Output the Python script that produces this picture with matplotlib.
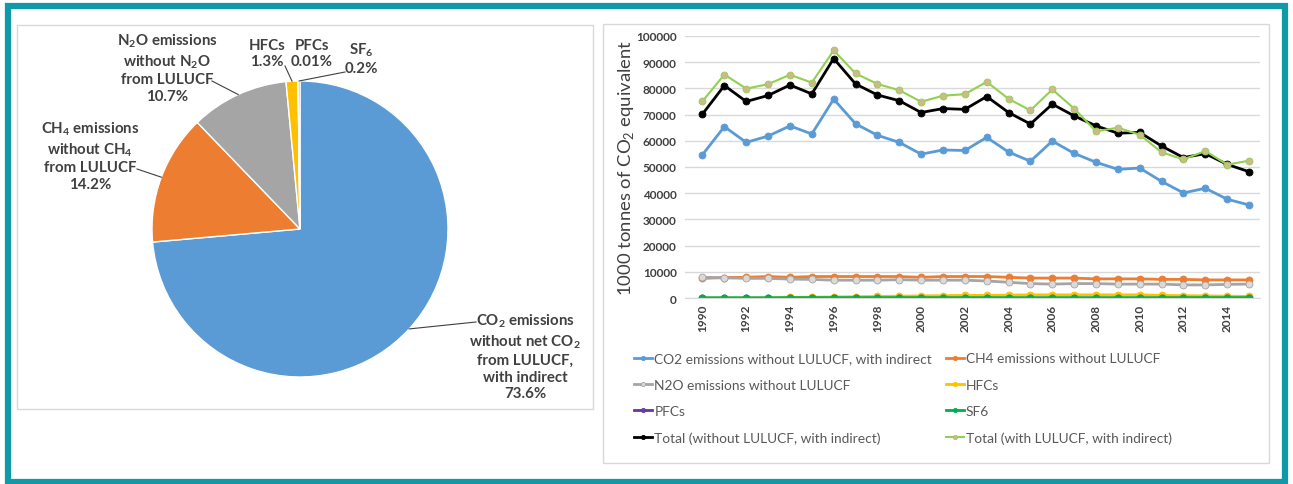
import numpy as np
import matplotlib
matplotlib.use("Agg")
import matplotlib.pyplot as plt
from matplotlib.patches import Rectangle

plt.rcParams['font.family'] = ['Lato', 'DejaVu Sans']
plt.rcParams['mathtext.fontset'] = 'custom'
plt.rcParams['mathtext.rm'] = 'Lato'
plt.rcParams['mathtext.bf'] = 'Lato:bold'

# ---- pie data ----
pie_labels = [r"CO$_\mathbf{2}$ emissions" "\n" r"without net CO$_\mathbf{2}$" "\nfrom LULUCF,\nwith indirect\n73.6%",
              r"CH$_\mathbf{4}$ emissions" "\n" r"without CH$_\mathbf{4}$" "\nfrom LULUCF\n14.2%",
              r"N$_\mathbf{2}$O emissions" "\n" r"without N$_\mathbf{2}$O" "\nfrom LULUCF\n10.7%",
              "HFCs\n1.3%",
              "PFCs\n0.01%",
              r"SF$_\mathbf{6}$" "\n0.2%"]
pie_shares = [73.6, 14.2, 10.7, 1.3, 0.01, 0.2]
pie_colors = ["#5B9BD5", "#ED7D31", "#A5A5A5", "#FFC000", "#4472C4", "#70AD47"]

# ---- line data (1000 t CO2 eq) ----
years = list(range(1990, 2016))
co2 = [54700, 65400, 59400, 61800, 65700, 62600, 75900, 66500, 62100, 59400,
       54900, 56500, 56300, 61300, 55700, 52200, 59900, 55200, 51800, 49100,
       49600, 44500, 40100, 41900, 37700, 35500]
ch4 = [7500, 7800, 7900, 8200, 7900, 8200, 8200, 8200, 8200, 8200,
       7900, 8200, 8200, 8200, 7900, 7600, 7600, 7600, 7300, 7300,
       7300, 7100, 7100, 6900, 6900, 6900]
n2o = [7900, 7700, 7500, 7500, 7200, 7100, 6800, 6800, 6800, 7000,
       6800, 6800, 6800, 6500, 6000, 5500, 5300, 5500, 5500, 5300,
       5300, 5300, 5000, 5000, 5200, 5300]
hfcs = [0, 0, 0, 0, 200, 300, 400, 500, 600, 700,
        800, 900, 1000, 1000, 1100, 1200, 1200, 1200, 1200, 1200,
        1200, 1000, 900, 800, 700, 600]
pfcs = [10, 10, 10, 10, 10, 10, 10, 10, 10, 10,
        10, 10, 10, 10, 10, 10, 10, 10, 10, 10,
        10, 10, 10, 10, 10, 10]
sf6 = [100, 100, 100, 100, 150, 150, 150, 150, 150, 150,
       150, 150, 150, 150, 150, 150, 150, 150, 150, 150,
       150, 150, 150, 150, 150, 150]
total_wo = [70200, 81100, 75000, 77300, 81300, 77900, 91400, 81700, 77500, 75300,
            70800, 72300, 72000, 76900, 70800, 66400, 74000, 69500, 65700, 62900,
            63200, 58000, 53600, 55100, 51000, 48200]
total_w = [75100, 85300, 79900, 81600, 85200, 82200, 94500, 85700, 81700, 79300,
           74900, 77200, 77800, 82500, 76000, 71600, 79600, 72300, 63600, 65000,
           62300, 55600, 52900, 56100, 50900, 52400]

W, H = 1293, 485
fig = plt.figure(figsize=(W / 100, H / 100), dpi=100)

def box(x0, y0, x1, y1):
    # pixel box (top-left origin) -> figure fraction rect
    return [x0 / W, 1 - y1 / H, (x1 - x0) / W, (y1 - y0) / H]

# outer teal frame and panel frames
fig.patches.append(Rectangle((8 / W, 2.5 / H), (1285 - 8) / W, (478 - 2.5) / H,
                             transform=fig.transFigure, fill=False,
                             edgecolor="#0E9AA7", linewidth=4.5))
for b in [box(17, 26, 593, 410), box(603, 25, 1269, 464)]:
    fig.patches.append(Rectangle((b[0], b[1]), b[2], b[3], transform=fig.transFigure,
                                 fill=False, edgecolor="#D9D9D9", linewidth=1))

# ---- pie ----
cx, cy, R = 300, 230, 148
axp = fig.add_axes(box(17, 26, 593, 410))
wedges, _ = axp.pie(pie_shares, colors=pie_colors, startangle=90, counterclock=False,
                    wedgeprops=dict(edgecolor="white", linewidth=1))
axp.set_xlim((17 - cx) / R, (593 - cx) / R)
axp.set_ylim(-(410 - cy) / R, (cy - 26) / R)
axp.set_aspect("auto")
axp.axis("off")

def px(x, y):
    return ((x - cx) / R, (cy - y) / R)

# label centre (px), leader start (px)
label_pos = [(525, 357, 476, 323),
             (90, 156, 137, 170),
             (167, 68, 212, 82),
             (267, 54, 285, 67),
             (312, 54, None, None),
             (361, 59, 345, 73)]
for w, lab, (lx, ly, sx, sy) in zip(wedges, pie_labels, label_pos):
    ang = np.deg2rad((w.theta1 + w.theta2) / 2)
    tip = (np.cos(ang), np.sin(ang))
    axp.text(*px(lx, ly), lab, ha="center", va="center", fontsize=10.8,
             fontweight="bold", color="#404040", linespacing=1.25)
    if sx is not None:
        axp.plot([px(sx, sy)[0], tip[0]], [px(sx, sy)[1], tip[1]],
                 color="#404040", linewidth=0.8)

# ---- line chart ----
ax = fig.add_axes(box(685, 37, 1260, 299))
series = [
    ("CO2 emissions without LULUCF, with indirect", co2, "#5B9BD5", "#5B9BD5", 2.0),
    ("CH4 emissions without LULUCF", ch4, "#ED7D31", "#ED7D31", 2.0),
    ("N2O emissions without LULUCF", n2o, "#A5A5A5", "#D9D9D9", 2.0),
    ("HFCs", hfcs, "#FFC000", "#FFC000", 2.0),
    ("PFCs", pfcs, "#7030A0", "#4453A8", 2.0),
    ("SF6", sf6, "#00B050", "#00B050", 2.0),
    ("Total (without LULUCF, with indirect)", total_wo, "#000000", "#000000", 2.0),
    ("Total (with LULUCF, with indirect)", total_w, "#92D050", "#CDB98A", 1.5),
]
for name, vals, col, mcol, lw in series:
    ax.plot(years, vals, color=col, linewidth=lw, marker="o", markersize=5,
            markerfacecolor=mcol, markeredgecolor=col, markeredgewidth=0.6, label=name)

ax.set_xlim(1989.2, 2015.5)
ax.set_ylim(0, 100000)
ax.set_yticks(range(0, 100001, 10000))
ax.set_xticks(years)
ax.set_xticklabels([str(y) if y % 2 == 0 else "" for y in years], rotation=90)
ax.tick_params(axis="both", length=0, labelsize=8.5, labelcolor="#404040")
for t in ax.get_xticklabels() + ax.get_yticklabels():
    t.set_fontweight("bold")
ax.tick_params(axis="y", pad=6)
ax.tick_params(axis="x", pad=4)
ax.grid(axis="y", color="#D9D9D9", linewidth=1)
ax.set_axisbelow(True)
for s in ["top", "right", "left"]:
    ax.spines[s].set_visible(False)
ax.spines["bottom"].set_color("#D9D9D9")
ax.set_ylabel("1000 tonnes of CO$_2$ equivalent", fontsize=13.3, color="#404040", labelpad=0)

handles, labels = ax.get_legend_handles_labels()
order = [0, 2, 4, 6, 1, 3, 5, 7]
fig.legend([handles[i] for i in order], [labels[i] for i in order],
           loc="upper left", bbox_to_anchor=(622 / W, 1 - 341 / H),
           ncol=2, frameon=False, fontsize=9.9, labelcolor="#595959",
           handlelength=1.3, handletextpad=0.15, columnspacing=1.0,
           labelspacing=1.04, markerscale=0.6)

fig.savefig("out.png", dpi=100)
